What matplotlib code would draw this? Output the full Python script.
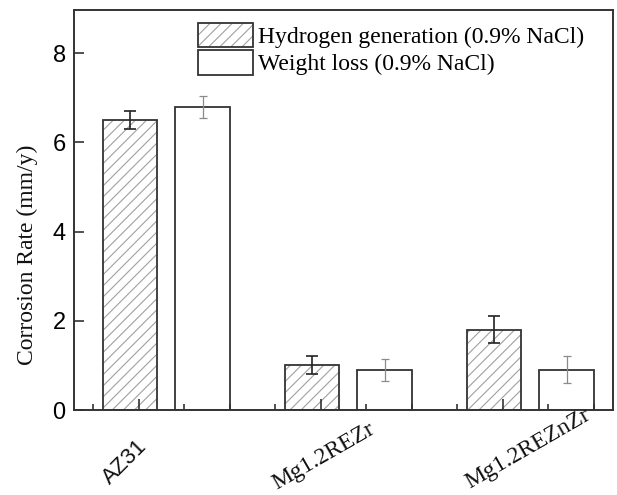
import matplotlib
matplotlib.use("Agg")
import matplotlib.pyplot as plt
from matplotlib.legend_handler import HandlerTuple
import numpy as np

# data
alloys = ["AZ31", "Mg1.2REZr", "Mg1.2REZnZr"]
hydrogen = [6.5, 1.0, 1.8]
hydrogen_err = [0.2, 0.2, 0.3]
weight_loss = [6.8, 0.9, 0.9]
weight_loss_err = [0.25, 0.25, 0.3]
series_labels = ["Hydrogen generation (0.9% NaCl)", "Weight loss (0.9% NaCl)"]

serif = ["Liberation Serif", "DejaVu Serif"]
sans = ["Liberation Sans", "DejaVu Sans"]
plt.rcParams["hatch.linewidth"] = 0.8

fig = plt.figure(figsize=(6.17, 4.95), dpi=100)
ax = fig.add_axes([0.1199, 0.1717, 0.8731, 0.8081])

x = np.arange(1, len(alloys) + 1)
w = 0.3
edge = "#333333"

# hatched bars: light hatch layer + dark outline
h_fill = ax.bar(x - 0.05, hydrogen, w, facecolor="white", edgecolor="#a0a0a0",
                hatch="///", linewidth=0)
h_edge = ax.bar(x - 0.05, hydrogen, w, fill=False, edgecolor=edge, linewidth=1.3)
ax.errorbar(x - 0.05, hydrogen, yerr=hydrogen_err, fmt="none", ecolor="#222222",
            elinewidth=1.2, capsize=4, capthick=1.2)

wl = ax.bar(x + 0.35, weight_loss, w, facecolor="white", edgecolor=edge, linewidth=1.3)
ax.errorbar(x + 0.35, weight_loss, yerr=weight_loss_err, fmt="none", ecolor="#8a8a8a",
            elinewidth=0.9, capsize=3, capthick=0.9)

ax.set_xlim(0.643, 3.603)
ax.set_ylim(0, 8.97)
ax.set_yticks([0, 2, 4, 6, 8])
ax.set_xticks(x)
ax.set_xticks(np.arange(0.75, 3.6, 0.25), minor=True)
ax.set_xticklabels([])
ax.tick_params(axis="both", which="both", direction="in", color=edge, width=1.2)
ax.tick_params(axis="y", which="major", length=7, pad=6, labelsize=17)
ax.tick_params(axis="x", which="major", length=8)
ax.tick_params(axis="x", which="minor", length=4)
for lab in ax.get_yticklabels():
    lab.set_fontfamily(sans)
for s in ax.spines.values():
    s.set_color(edge)
    s.set_linewidth(1.4)

# rotated category labels
lab_dx = [-0.077, 0.016, 0.137]
lab_y = [-0.13, -0.115, -0.098]
lab_rot = [45, 30, 30]
lab_font = [sans, serif, serif]
lab_size = [16, 17, 17]
for i, name in enumerate(alloys):
    ax.text(x[i] + lab_dx[i], lab_y[i], name, transform=ax.get_xaxis_transform(),
            rotation=lab_rot[i], ha="center", va="center", family=lab_font[i],
            fontsize=lab_size[i], color="#111111")

fig.text(0.044, 0.485, "Corrosion Rate (mm/y)", rotation=90, ha="center",
         va="center", family=serif, fontsize=17, color="#111111")

leg = ax.legend([(h_fill, h_edge), wl], series_labels,
                handler_map={tuple: HandlerTuple(ndivide=1, pad=0)},
                loc="upper left", bbox_to_anchor=(0.230, 0.9675), frameon=False,
                borderpad=0, borderaxespad=0, handlelength=2.33, handleheight=1.2,
                handletextpad=0.2, labelspacing=0.1, prop={"family": serif, "size": 17})

fig.savefig("out.png", dpi=100)
